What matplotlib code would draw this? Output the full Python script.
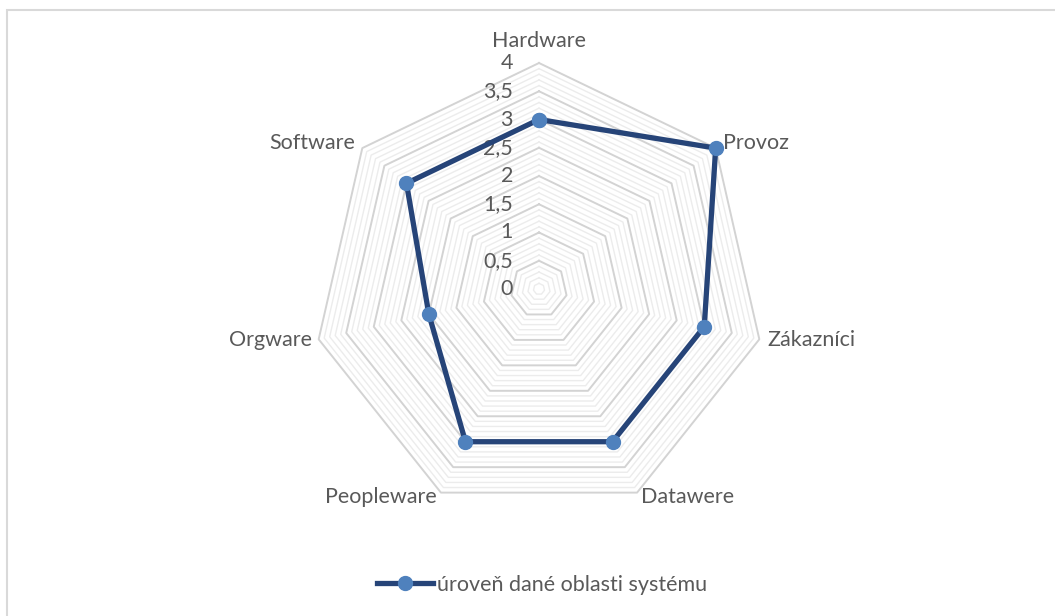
import matplotlib.pyplot as plt
import numpy as np
from matplotlib.transforms import offset_copy
from matplotlib.patches import Rectangle

# data
categories = ["Hardware", "Provoz", "Zákazníci", "Datawere", "Peopleware", "Orgware", "Software"]
values = [3, 4, 3, 3, 3, 2, 3]
tick_values = [0, 0.5, 1, 1.5, 2, 2.5, 3, 3.5, 4]
tick_labels = ["0", "0,5", "1", "1,5", "2", "2,5", "3", "3,5", "4"]
series_name = "úroveň dané oblasti systému"

plt.rcParams["font.family"] = ["Lato", "DejaVu Sans"]
text_color = "#595959"
line_color = "#264478"
marker_color = "#4f81bd"
fs = 15.5

fig = plt.figure(figsize=(10.55, 6.16), dpi=100)

# chart area border
fig.patches.append(
    Rectangle((7 / 1055, -0.1), 1.2, (616 - 10) / 616 + 0.1,
              transform=fig.transFigure, fill=False, edgecolor="#d9d9d9", linewidth=1.5)
)

# polar axes, center at (539, 289) px, radius 226 px
ax = fig.add_axes([313 / 1055, (616 - 289 - 226) / 616, 452 / 1055, 452 / 616], polar=True)
ax.set_theta_offset(np.pi / 2)
ax.set_theta_direction(-1)
ax.set_ylim(0, 4)
ax.grid(False)
ax.spines["polar"].set_visible(False)
ax.set_xticks([])
ax.set_yticks([])
ax.patch.set_alpha(0)

n = len(categories)
angles = np.linspace(0, 2 * np.pi, n, endpoint=False)
closed = np.append(angles, angles[0])

# polygon gridlines: minor every 0.1, major every 0.5
for k in range(1, 41):
    r = k / 10
    if k % 5 == 0:
        ax.plot(closed, [r] * (n + 1), color="#d3d3d3", linewidth=1.4, zorder=1, clip_on=False)
    else:
        ax.plot(closed, [r] * (n + 1), color="#ececec", linewidth=1.0, zorder=0.5, clip_on=False)

# tick labels along the top spoke
tick_trans = offset_copy(ax.transData, fig=fig, x=-26, y=0, units="dots")
for v, lab in zip(tick_values, tick_labels):
    ax.text(0, v, lab, transform=tick_trans, ha="right", va="center",
            fontsize=fs, color=text_color)

# category labels
label_pos = {
    "Hardware": (0, 12, "center", "bottom"),
    "Provoz": (7, 5, "left", "center"),
    "Zákazníci": (8, -1, "left", "center"),
    "Datawere": (4, -4, "left", "center"),
    "Peopleware": (-4, -4, "right", "center"),
    "Orgware": (-7, -1, "right", "center"),
    "Software": (-7, 5, "right", "center"),
}
for a, cat in zip(angles, categories):
    dx, dy, ha, va = label_pos[cat]
    tr = offset_copy(ax.transData, fig=fig, x=dx, y=dy, units="dots")
    ax.text(a, 4, cat, transform=tr, ha=ha, va=va, fontsize=fs, color=text_color)

# data series
vals = values + values[:1]
ax.plot(closed, vals, color=line_color, linewidth=3.8, zorder=3, clip_on=False,
        label=series_name, marker="o", markersize=10,
        markerfacecolor=marker_color, markeredgecolor=marker_color)

leg = fig.legend(loc="center", bbox_to_anchor=(542 / 1055, 1 - 585 / 616),
                 frameon=False, fontsize=fs, handlelength=2.6, handletextpad=0.15)
for t in leg.get_texts():
    t.set_color(text_color)

fig.savefig("out.png", dpi=100)
